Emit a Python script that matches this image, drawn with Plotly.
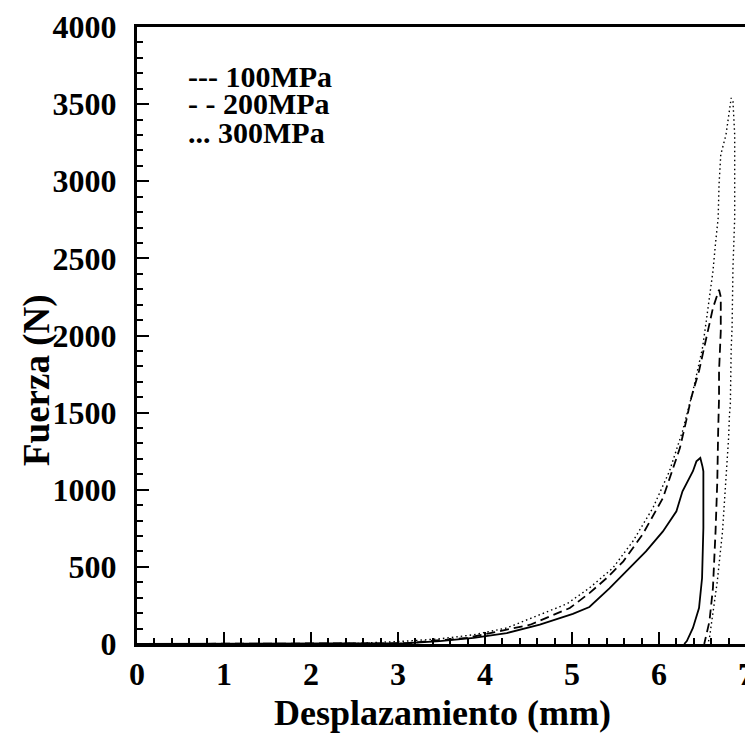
import plotly.graph_objects as go

# 100MPa (solid): loading then unloading
x100 = [0, 2.5, 3.1, 3.48, 3.87, 4.25, 4.63, 5.01, 5.2, 5.43, 5.66, 5.85, 6.045, 6.2, 6.27, 6.39, 6.43, 6.475,
        6.50, 6.51, 6.51, 6.495, 6.46, 6.39, 6.32, 6.29]
f100 = [0, 2, 5, 19, 39, 71, 125, 195, 240, 360, 493, 600, 730, 860, 990, 1120, 1184, 1206,
        1150, 1120, 752, 428, 233, 104, 19, 0]

# 200MPa (dashed)
x200 = [0, 2.5, 3.1, 3.41, 3.79, 4.25, 4.52, 4.75, 4.975, 5.2, 5.4, 5.59, 5.81, 6.045, 6.24, 6.31, 6.37, 6.46,
        6.54, 6.62, 6.69, 6.71, 6.71, 6.71, 6.69, 6.69, 6.68, 6.67, 6.65, 6.62, 6.58, 6.54, 6.52]
f200 = [0, 2, 5, 21, 39, 93, 125, 180, 233, 330, 428, 536, 709, 946, 1270, 1440, 1595, 1770,
        1984, 2178, 2297, 2250, 2178, 2027, 1768, 1595, 1379, 1055, 730, 363, 147, 39, 0]

# 300MPa (dotted)
x300 = [0, 2.5, 3.1, 3.49, 3.87, 4.25, 4.63, 4.94, 5.2, 5.47, 5.70, 5.93, 6.12, 6.27, 6.39, 6.50, 6.54, 6.58,
        6.62, 6.65, 6.68, 6.69, 6.71, 6.77, 6.83, 6.85, 6.87, 6.87, 6.87, 6.86, 6.85, 6.84, 6.83, 6.82, 6.81,
        6.80, 6.77, 6.73, 6.67, 6.62, 6.58, 6.56]
f300 = [0, 3, 19, 34, 60, 104, 190, 260, 363, 493, 666, 882, 1120, 1379, 1640, 1919, 2080, 2250,
        2416, 2600, 2762, 2978, 3172, 3302, 3540, 3518, 3302, 3086, 2762, 2600, 2438, 2050, 1919, 1552, 1487,
        1335, 1055, 730, 406, 190, 39, 0]

series_names = ["100MPa", "200MPa", "300MPa"]
legend_marks = ["---", "- -", "..."]

x_ticks = [0, 1, 2, 3, 4, 5, 6, 7]
y_ticks = [0, 500, 1000, 1500, 2000, 2500, 3000, 3500, 4000]

FONT = "Liberation Serif"

fig = go.Figure()
fig.add_trace(go.Scatter(x=x100, y=f100, mode="lines", name=series_names[0],
                         line=dict(color="black", width=1.8), showlegend=False))
fig.add_trace(go.Scatter(x=x200, y=f200, mode="lines", name=series_names[1],
                         line=dict(color="black", width=1.8, dash="9px,5px"), showlegend=False))
fig.add_trace(go.Scatter(x=x300, y=f300, mode="lines", name=series_names[2],
                         line=dict(color="black", width=1.4, dash="1.5px,3px"), showlegend=False))

axis_common = dict(
    showgrid=False, zeroline=False, showline=True, linecolor="black", linewidth=3,
    mirror=True, ticks="inside", ticklen=12, tickwidth=2, tickcolor="black",
    tickfont=dict(family=FONT, size=32, color="black", weight="bold"),
    automargin=False,
)

fig.update_xaxes(range=[0, 7], tickvals=x_ticks, ticktext=[str(v) for v in x_ticks],
                 minor=dict(dtick=0.2, ticks="inside", ticklen=6, tickwidth=1.5, tickcolor="black"),
                 ticklabelstandoff=0, **axis_common)
fig.update_yaxes(range=[0, 4000], tickvals=y_ticks, ticktext=[str(v) for v in y_ticks],
                 minor=dict(dtick=100, ticks="inside", ticklen=6, tickwidth=1.5, tickcolor="black"),
                 ticklabelstandoff=11, **axis_common)

fig.update_layout(
    width=753, height=733,
    margin=dict(l=129, r=15, t=19, b=97, autoexpand=False),
    paper_bgcolor="white", plot_bgcolor="white",
    font=dict(family=FONT, color="black"),
    showlegend=False,
)

PW, PH = 753 - 129 - 15, 733 - 19 - 97
X0, YB = 129, 636

# X-axis title
fig.add_annotation(text="Desplazamiento (mm)", xref="paper", yref="paper",
                   x=(434 - X0) / PW, y=(YB - 705) / PH, xanchor="center", yanchor="middle",
                   showarrow=False, font=dict(family=FONT, size=36, color="black", weight="bold"))

# Y-axis title
fig.add_annotation(text="Fuerza (N)", textangle=-90, xref="paper", yref="paper",
                   x=(29 - X0) / PW, y=(YB - 372) / PH, xanchor="center", yanchor="middle",
                   showarrow=False, font=dict(family=FONT, size=37, color="black", weight="bold"))

# Legend as text
legend_rows_y = [68, 96, 124]
for mark, name, ypx in zip(legend_marks, series_names, legend_rows_y):
    fig.add_annotation(text=mark + " " + name, xref="paper", yref="paper",
                       x=(178 - X0) / PW, y=(YB - ypx) / PH, xanchor="left", yanchor="middle",
                       showarrow=False, font=dict(family=FONT, size=30, color="black", weight="bold"))

fig.write_html("out.html")
